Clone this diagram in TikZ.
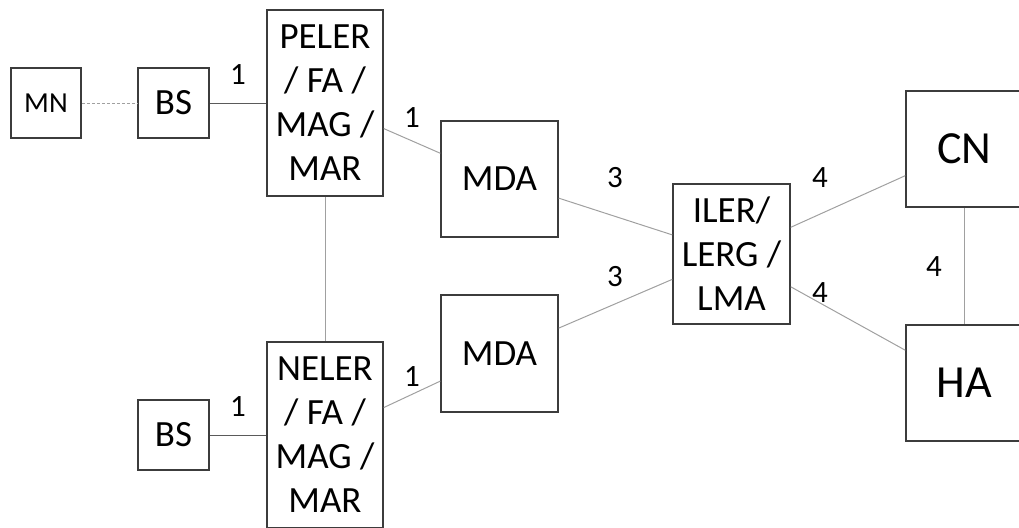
\documentclass[tikz,border=0pt]{standalone}
\usepackage{fontspec}
\setmainfont{Carlito}
\definecolor{boxc}{HTML}{3C3C3C}
\definecolor{linec}{HTML}{A0A0A0}
\definecolor{darkline}{HTML}{5A5A5A}
\tikzset{
  box/.style={draw=boxc, line width=1.5pt, fill=white, align=center, inner sep=0pt, text=black, font=\fontsize{37}{44}\selectfont},
  conn/.style={draw=linec, line width=1pt},
  dconn/.style={draw=darkline, line width=1pt},
  lbl/.style={font=\fontsize{31}{34}\selectfont, inner sep=0pt},
}
\begin{document}
\begin{tikzpicture}[x=1pt,y=-1pt]
\useasboundingbox (0,0) rectangle (1019,527);
\clip (0,0) rectangle (1019,527);
% nodes
\node[box, minimum width=70pt, minimum height=70pt, font=\fontsize{29}{32}\selectfont] (mn) at (46,103) {MN};
\node[box, minimum width=71pt, minimum height=70pt] (bs1) at (173.5,103) {BS};
\node[box, minimum width=116pt, minimum height=186pt] (peler) at (325,103) {PELER\\/ FA /\\MAG /\\MAR};
\node[box, minimum width=116pt, minimum height=186pt] (neler) at (325,435) {NELER\\/ FA /\\MAG /\\MAR};
\node[box, minimum width=71pt, minimum height=70pt] (bs2) at (173.5,435) {BS};
\node[box, minimum width=117pt, minimum height=116pt] (mda1) at (499.5,179) {MDA};
\node[box, minimum width=117pt, minimum height=117pt] (mda2) at (499.5,353.5) {MDA};
\node[box, minimum width=117pt, minimum height=140pt] (iler) at (731.5,254) {ILER/\\LERG /\\LMA};
\node[box, minimum width=117pt, minimum height=116pt, font=\fontsize{46}{50}\selectfont] (cn) at (964.5,149) {CN};
\node[box, minimum width=117pt, minimum height=116pt, font=\fontsize{46}{50}\selectfont] (ha) at (964.5,383) {HA};
% connectors
\draw[conn, dashed, dash pattern=on 3pt off 2pt] (mn) -- (bs1);
\draw[dconn] (bs1) -- (peler);
\draw[conn] (peler) -- (neler);
\draw[dconn] (bs2) -- (neler);
\draw[conn] (peler) -- (mda1);
\draw[conn] (neler) -- (mda2);
\draw[conn] (mda1) -- (iler);
\draw[conn] (mda2) -- (iler);
\draw[conn] (iler) -- (cn);
\draw[conn] (iler) -- (ha);
\draw[conn] (cn) -- (ha);
% labels
\node[lbl] (l1) at (238,75) {1};
\node[lbl] (l2) at (412,118) {1};
\node[lbl] (l3) at (412,377) {1};
\node[lbl] (l4) at (238,407) {1};
\node[lbl] (l5) at (615,178) {3};
\node[lbl] (l6) at (615,277) {3};
\node[lbl] (l7) at (820,178) {4};
\node[lbl] (l8) at (820,293) {4};
\node[lbl] (l9) at (934,267) {4};
\end{tikzpicture}
\end{document}
